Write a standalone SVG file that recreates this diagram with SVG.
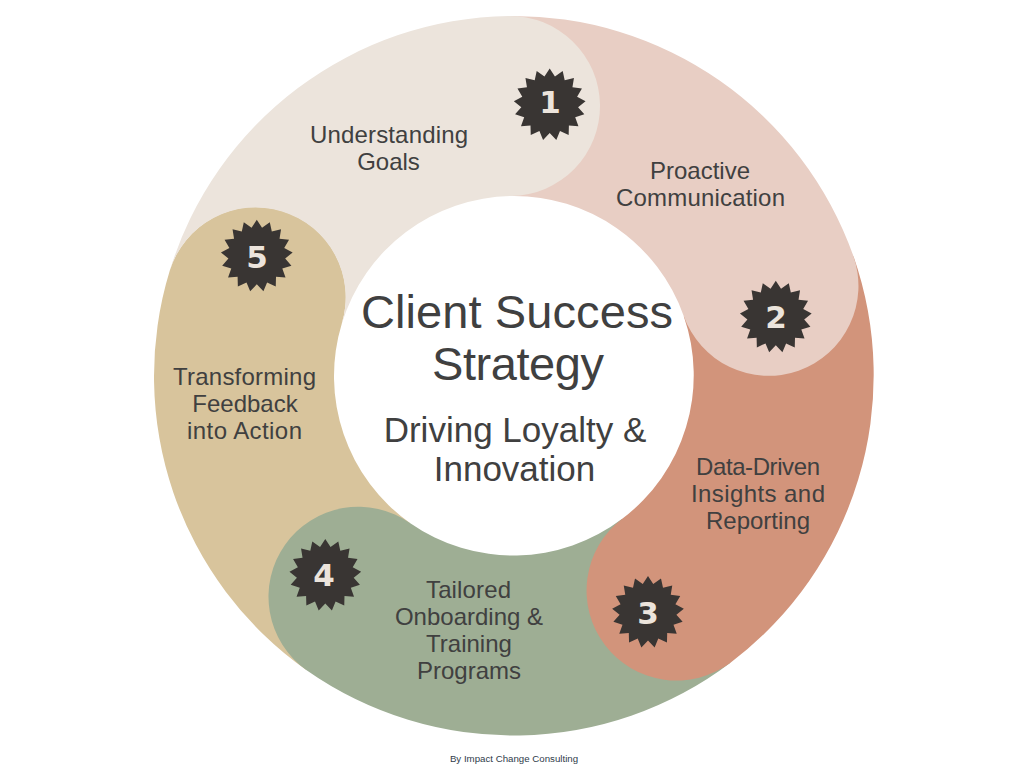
<svg xmlns="http://www.w3.org/2000/svg" width="1024" height="768" viewBox="0 0 1024 768">
<style>
text{font-family:"Liberation Sans",Arial,sans-serif;fill:#404040;text-anchor:middle}
.l{font-size:24px}
.t{font-size:47px}
.s{font-size:35px}
.f{font-size:9.7px;fill:#2f3b4a}
.n{font-family:"DejaVu Sans",sans-serif;font-weight:700;font-size:31px;fill:#ece4dc}
.b{fill:#393533}
</style>
<defs>
<polygon id="star" points="0,-36 5.24,-28.02 13,-33.57 15,-24.23 24.25,-26.6 22.74,-17.17 32.23,-16.05 27.41,-7.8 35.85,-3.32 28.38,2.63 34.62,9.85 25.51,12.7 28.73,21.69 19.2,21.06 18.95,30.61 10.29,26.58 6.61,35.39 0,28.5 -6.61,35.39 -10.29,26.58 -18.95,30.61 -19.2,21.06 -28.73,21.69 -25.51,12.7 -34.62,9.85 -28.38,2.63 -35.85,-3.32 -27.41,-7.8 -32.23,-16.05 -22.74,-17.17 -24.25,-26.6 -15,-24.23 -13,-33.57 -5.24,-28.02"/>
</defs>
<rect width="1024" height="768" fill="#fff"/>
<g id="step5">
<path fill="#d8c49c" d="M306.6 670.3A360 360 0 0 1 169.8 270.6A80 80 0 0 1 341.9 323.3A180 180 0 0 0 410.3 523.2A100 100 0 0 0 306.6 670.3Z"/>
</g>
<g id="step4">
<path fill="#9eae94" d="M730.8 662.4A360 360 0 0 1 306.6 670.3A80 80 0 0 1 410.3 523.2A180 180 0 0 0 622.2 518.8A100 100 0 0 0 730.8 662.4Z"/>
</g>
<g id="step3">
<path fill="#d2947b" d="M853.3 255.8A360 360 0 0 1 730.8 662.4A80 80 0 0 1 622.2 518.8A180 180 0 0 0 683.7 315.9A100 100 0 0 0 853.3 255.8Z"/>
</g>
<g id="step2">
<path fill="#e8cec4" d="M508.7 16A360 360 0 0 1 853.3 255.8A80 80 0 0 1 683.7 315.9A180 180 0 0 0 511.3 196A100 100 0 0 0 508.7 16Z"/>
</g>
<g id="step1">
<path fill="#ece4dc" d="M169.65 271.08A360 360 0 0 1 508.7 16A80 80 0 0 1 511.3 196A180 180 0 0 0 341.75 323.78A80 80 0 0 0 169.65 271.08Z"/>
</g>
<g id="connectors"></g>
<g id="labels1">
<text class="l" x="389" y="143" textLength="158">Understanding</text>
<text class="l" x="388.500" y="170">Goals</text>
</g>
<g id="labels2">
<text class="l" x="700" y="179">Proactive</text>
<text class="l" x="700.500" y="206" textLength="169">Communication</text>
</g>
<g id="labels3">
<text class="l" x="758" y="475" textLength="124">Data-Driven</text>
<text class="l" x="758" y="502" textLength="134">Insights and</text>
<text class="l" x="758" y="529">Reporting</text>
</g>
<g id="labels4">
<text class="l" x="468.500" y="598" textLength="85">Tailored</text>
<text class="l" x="469" y="625">Onboarding &amp;</text>
<text class="l" x="469" y="652">Training</text>
<text class="l" x="469" y="679">Programs</text>
</g>
<g id="labels5">
<text class="l" x="244.500" y="385" textLength="143">Transforming</text>
<text class="l" x="245" y="412">Feedback</text>
<text class="l" x="244.500" y="439" textLength="115">into Action</text>
</g>
<g id="badge1"><use href="#star" class="b" x="549.700" y="104.500"/><text class="n" x="550" y="112.500">1</text></g>
<g id="badge2"><use href="#star" class="b" x="775.800" y="316.800"/><text class="n" x="776" y="327.500">2</text></g>
<g id="badge3"><use href="#star" class="b" x="648" y="612"/><text class="n" x="648" y="623.500">3</text></g>
<g id="badge4"><use href="#star" class="b" x="325.300" y="575"/><text class="n" x="324" y="586">4</text></g>
<g id="badge5"><use href="#star" class="b" x="256.800" y="255.800"/><text class="n" x="257" y="268">5</text></g>
<g id="center">
<text class="t" x="517" y="328" textLength="312">Client Success</text>
<text class="t" x="518" y="380" textLength="172">Strategy</text>
<text class="s" x="515" y="442">Driving Loyalty &amp;</text>
<text class="s" x="514.500" y="481">Innovation</text>
</g>
<text class="f" x="514" y="762">By Impact Change Consulting</text>
</svg>
